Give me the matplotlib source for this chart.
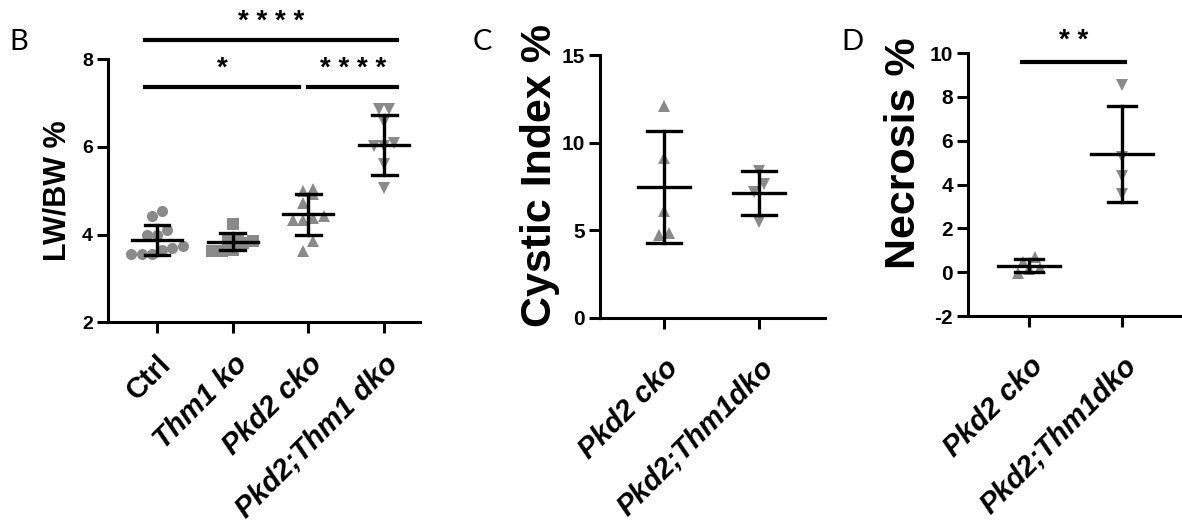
import numpy as np
import matplotlib.pyplot as plt

plt.rcParams['font.family'] = ['Liberation Sans', 'DejaVu Sans']
plt.rcParams['axes.unicode_minus'] = False

# Panel B: liver weight / body weight
b_groups = ["Ctrl", "Thm1 ko", "Pkd2 cko", "Pkd2;Thm1 dko"]
b_italic = [False, True, True, True]
b_ctrl = [4.42, 4.53, 4.00, 4.00, 4.11, 3.73, 3.69, 3.65, 3.55, 3.55, 3.55]
b_thm1 = [4.23, 3.89, 3.89, 3.85, 3.63, 3.63, 3.80, 3.65]
b_pkd2 = [5.04, 5.00, 4.93, 4.72, 4.42, 4.38, 4.34, 4.34, 3.85, 3.62]
b_dko = [6.87, 6.87, 6.57, 6.02, 6.09, 6.02, 5.61, 5.06]
b_mean = [3.88, 3.84, 4.46, 6.04]
b_sd = [0.34, 0.19, 0.47, 0.68]

# Panel C: cystic index
c_groups = ["Pkd2 cko", "Pkd2;Thm1dko"]
c_pkd2 = [12.1, 9.1, 6.1, 4.75, 4.85]
c_dko = [7.65, 7.2, 8.4, 5.5]
c_mean = [7.45, 7.15]
c_sd = [3.2, 1.25]

# Panel D: necrosis
d_groups = ["Pkd2 cko", "Pkd2;Thm1dko"]
d_pkd2 = [0.71, -0.05, 0.48, 0.20, 0.15]
d_dko = [8.55, 5.28, 4.37, 3.58]
d_mean = [0.29, 5.4]
d_sd = [0.3, 2.2]

GREY = '#8a8a8a'


def swarm(vals, ystep, xstep):
    # group close values into rows and centre each row on the group
    vals = np.asarray(vals, dtype=float)
    order = np.argsort(vals)
    offs = np.zeros(len(vals))
    row = []
    for idx in list(order) + [None]:
        if idx is not None and (not row or vals[idx] - vals[row[0]] <= ystep):
            row.append(idx)
            continue
        n = len(row)
        for k, r in enumerate(row):
            offs[r] = (k - (n - 1) / 2) * xstep
        row = [idx] if idx is not None else []
    return offs


def style_axes(ax, xlim, ylim, yticks, labels, italic, ylabel, ylsize, ytsize, pad, xpad):
    ax.set_xlim(*xlim)
    ax.set_ylim(*ylim)
    ax.set_yticks(yticks)
    ax.set_xticks(range(len(labels)))
    ax.set_xticklabels(labels, rotation=45, ha='right', rotation_mode='anchor',
                       fontsize=21, fontweight='bold')
    for t, it in zip(ax.get_xticklabels(), italic):
        t.set_fontstyle('italic' if it else 'normal')
    for t in ax.get_yticklabels():
        t.set_fontsize(ytsize)
        t.set_fontweight('bold')
    for s in ['top', 'right']:
        ax.spines[s].set_visible(False)
    for s in ['left', 'bottom']:
        ax.spines[s].set_linewidth(2.2)
    ax.tick_params(axis='both', width=2.2, length=8, pad=3)
    ax.tick_params(axis='x', pad=xpad)
    ax.set_ylabel(ylabel, fontsize=ylsize, fontweight='bold', labelpad=pad)


def group(ax, x, vals, marker, mean, sd, ystep, xstep, half, cap, ms):
    offs = swarm(vals, ystep, xstep)
    ax.plot(x + offs, vals, linestyle='none', marker=marker, color=GREY,
            markersize=ms, markeredgewidth=0, zorder=2)
    ax.plot([x - half, x + half], [mean, mean], color='black', lw=2.4, zorder=3)
    ax.plot([x, x], [mean - sd, mean + sd], color='black', lw=2.4, zorder=3)
    for y in (mean - sd, mean + sd):
        ax.plot([x - cap, x + cap], [y, y], color='black', lw=2.4, zorder=3)


def sig(ax, x0, x1, y, text, ty):
    ax.plot([x0, x1], [y, y], color='black', lw=3.0, clip_on=False)
    ax.text((x0 + x1) / 2, ty, text, ha='center', va='center', fontsize=20,
            fontweight='bold', clip_on=False)


fig = plt.figure(figsize=(11.82, 5.29), dpi=100)

# ---- B
axb = fig.add_axes([0.0914, 0.391, 0.2640, 0.497])
b_sets = [(b_ctrl, 'o'), (b_thm1, 's'), (b_pkd2, '^'), (b_dko, 'v')]
for i, (vals, m) in enumerate(b_sets):
    group(axb, i, vals, m, b_mean[i], b_sd[i], 0.23, 0.135, 0.33, 0.165, 8)
style_axes(axb, (-0.647, 3.476), (2, 8), [2, 4, 6, 8], b_groups, b_italic,
           "LW/BW %", 22, 14, 7, 12)
sig(axb, -0.16, 3.17, 8.43, "* * * *", 8.84)
sig(axb, -0.16, 1.88, 7.37, "*", 7.78)
sig(axb, 2.0, 3.17, 7.37, "* * * *", 7.78)
fig.text(0.008, 0.905, "B", fontsize=21, family='Lato')

# ---- C
axc = fig.add_axes([0.5076, 0.399, 0.1904, 0.497])
group(axc, 0, c_pkd2, '^', c_mean[0], c_sd[0], 0.57, 0.105, 0.27, 0.18, 8)
group(axc, 1, c_dko, 'v', c_mean[1], c_sd[1], 0.57, 0.105, 0.27, 0.18, 8)
style_axes(axc, (-0.674, 1.695), (0, 15), [0, 5, 10, 15], c_groups, [True, True],
           "Cystic Index %", 31, 15, 1, 18)
axc.yaxis.label.set_y(0.54)
fig.text(0.400, 0.905, "C", fontsize=21, family='Lato')

# ---- D
axd = fig.add_axes([0.819, 0.4026, 0.179, 0.497])
group(axd, 0, d_pkd2, '^', d_mean[0], d_sd[0], 0.46, 0.12, 0.33, 0.15, 8)
group(axd, 1, d_dko, 'v', d_mean[1], d_sd[1], 0.46, 0.12, 0.33, 0.15, 8)
style_axes(axd, (-0.656, 1.62), (-2, 10), [-2, 0, 2, 4, 6, 8, 10], d_groups, [True, True],
           "Necrosis %", 31, 15, 4, 18)
axd.yaxis.label.set_y(0.62)
sig(axd, -0.08, 1.03, 9.6, "* *", 10.55)
fig.text(0.712, 0.905, "D", fontsize=21, family='Lato')

fig.savefig("out.png", dpi=100)
